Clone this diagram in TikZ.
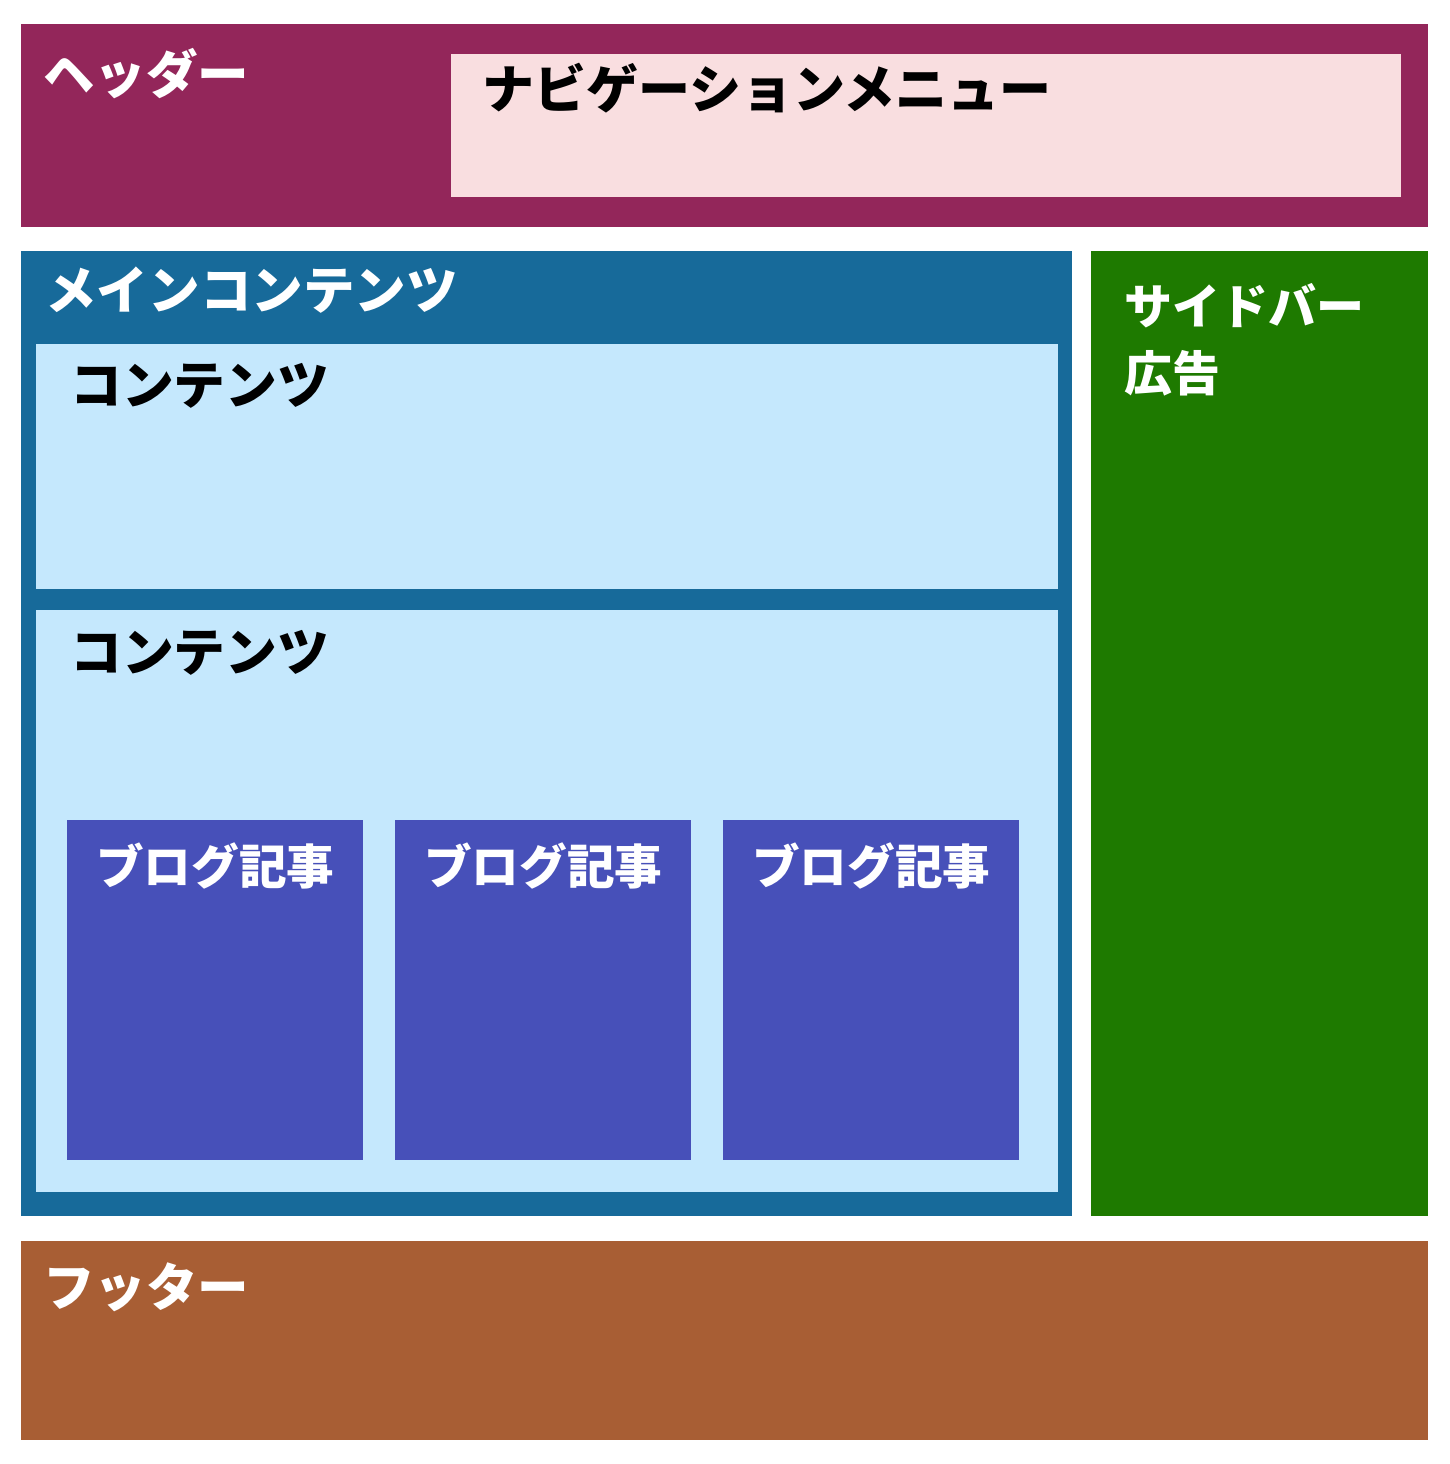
\documentclass[tikz,border=0pt]{standalone}
\usepackage{fontspec}
\setmainfont{Noto Sans CJK JP}
\definecolor{hdr}{HTML}{93265A}
\definecolor{nav}{HTML}{F9DEE0}
\definecolor{mainc}{HTML}{176A9A}
\definecolor{cont}{HTML}{C5E8FD}
\definecolor{blog}{HTML}{4750B9}
\definecolor{side}{HTML}{1E7A00}
\definecolor{foot}{HTML}{A85E34}
\begin{document}
\begin{tikzpicture}[x=1pt,y=-1pt,
  area/.style={draw=none,inner sep=0pt,outer sep=0pt,anchor=north west},
  lbl/.style={inner sep=0pt,anchor=base west,font=\fontsize{#1}{67}\selectfont\bfseries},
  wlbl/.style={lbl=#1,text=white},
  blbl/.style={lbl=#1,text=black}]
\useasboundingbox (0,0) rectangle (1450,1464);
\fill[white] (0,0) rectangle (1450,1464);
% areas
\node[area,fill=hdr,minimum width=1407pt,minimum height=203pt] (header) at (21,24) {};
\node[area,fill=nav,minimum width=950pt,minimum height=143pt] (navbox) at (451,54) {};
\node[area,fill=mainc,minimum width=1051pt,minimum height=965pt] (mainbox) at (21,251) {};
\node[area,fill=cont,minimum width=1022pt,minimum height=245pt] (cont1) at (36,344) {};
\node[area,fill=cont,minimum width=1022pt,minimum height=582pt] (cont2) at (36,610) {};
\node[area,fill=blog,minimum width=296pt,minimum height=340pt] (blog1) at (67,820) {};
\node[area,fill=blog,minimum width=296pt,minimum height=340pt] (blog2) at (395,820) {};
\node[area,fill=blog,minimum width=296pt,minimum height=340pt] (blog3) at (723,820) {};
\node[area,fill=side,minimum width=337pt,minimum height=965pt] (sidebar) at (1091,251) {};
\node[area,fill=foot,minimum width=1407pt,minimum height=199pt] (footer) at (21,1241) {};
% labels
\node[wlbl=51.5] (tHeader) at (43,93) {ヘッダー};
\node[blbl=52] (tNav) at (482,108) {ナビゲーションメニュー};
\node[wlbl=51.6] (tMain) at (45,309) {メインコンテンツ};
\node[blbl=51.8] (tC1) at (70,404) {コンテンツ};
\node[blbl=51.8] (tC2) at (70,671) {コンテンツ};
\node[wlbl=47.6] (tB1) at (96,884) {ブログ記事};
\node[wlbl=47.6] (tB2) at (424,884) {ブログ記事};
\node[wlbl=47.6] (tB3) at (752,884) {ブログ記事};
\node[wlbl=48] (tSide1) at (1124,324) {サイドバー};
\node[wlbl=48] (tSide2) at (1124,391) {広告};
\node[wlbl=51.5] (tFoot) at (43,1306) {フッター};
\end{tikzpicture}
\end{document}
